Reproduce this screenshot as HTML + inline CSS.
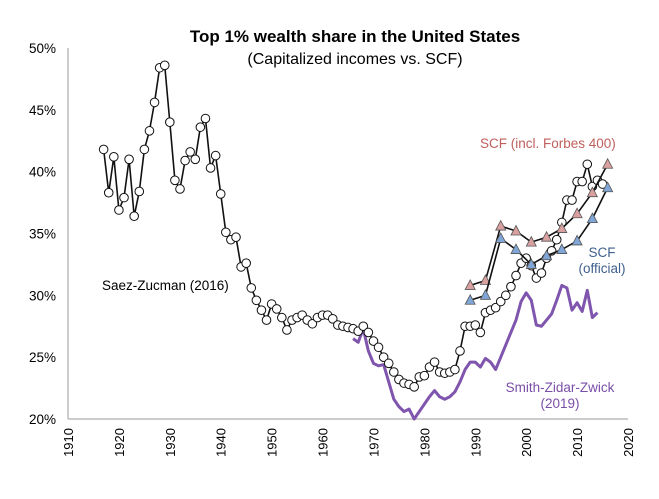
<!DOCTYPE html>
<html><head><meta charset="utf-8"><style>
body{margin:0;background:#fff;}
svg{display:block;font-family:"Liberation Sans",Arial,sans-serif;}
</style></head><body>
<svg width="659" height="499" id="c">
<text x="355" y="42" text-anchor="middle" font-size="17" font-weight="bold">Top 1% wealth share in the United States</text>
<text x="355" y="64" text-anchor="middle" font-size="16">(Capitalized incomes vs. SCF)</text>
<g id="axes"></g>
<g id="marks"></g>
<text x="102" y="290" font-size="13.5">Saez-Zucman (2016)</text>
<text x="480" y="148" font-size="13.5" fill="#c0605e">SCF (incl. Forbes 400)</text>
<text x="602" y="257" font-size="13.5" fill="#3f5f8c" text-anchor="middle">SCF</text>
<text x="602" y="273" font-size="13.5" fill="#3f5f8c" text-anchor="middle">(official)</text>
<text x="560" y="392" font-size="13.5" fill="#7a4fa8" text-anchor="middle">Smith-Zidar-Zwick</text>
<text x="560" y="408" font-size="13.5" fill="#7a4fa8" text-anchor="middle">(2019)</text>
</svg>
<script>
const szYears=[1917,1918,1919,1920,1921,1922,1923,1924,1925,1926,1927,1928,1929,1930,1931,1932,1933,1934,1935,1936,1937,1938,1939,1940,1941,1942,1943,1944,1945,1946,1947,1948,1949,1950,1951,1952,1953,1954,1955,1956,1957,1958,1959,1960,1961,1962,1963,1964,1965,1966,1967,1968,1969,1970,1971,1972,1973,1974,1975,1976,1977,1978,1979,1980,1981,1982,1983,1984,1985,1986,1987,1988,1989,1990,1991,1992,1993,1994,1995,1996,1997,1998,1999,2000,2001,2002,2003,2004,2005,2006,2007,2008,2009,2010,2011,2012,2013,2014,2015];
const szValues=[41.8,38.3,41.2,36.9,37.9,41.0,36.4,38.4,41.8,43.3,45.6,48.4,48.6,44.0,39.3,38.6,40.9,41.6,41.0,43.6,44.3,40.3,41.3,38.2,35.1,34.5,34.7,32.3,32.6,30.6,29.6,28.8,28.0,29.3,28.9,28.2,27.2,28.0,28.2,28.4,28.0,27.7,28.2,28.4,28.4,28.1,27.6,27.5,27.4,27.3,27.1,27.5,27.0,26.3,25.8,25.0,24.5,23.8,23.2,22.9,22.8,22.6,23.4,23.5,24.2,24.6,23.8,23.7,23.8,24.0,25.5,27.5,27.5,27.6,27.0,28.6,28.8,29.0,29.5,30.0,30.7,31.6,32.6,33.0,32.4,31.4,31.8,33.0,33.6,34.5,35.9,37.7,37.7,39.2,39.2,40.6,38.8,39.3,39.0];
const scfYears=[1989,1992,1995,1998,2001,2004,2007,2010,2013,2016];
const scfForbes=[30.8,31.2,35.6,35.2,34.3,34.7,35.4,36.6,38.3,40.6];
const scfOfficial=[29.6,30.0,34.6,33.7,32.5,33.2,33.7,34.4,36.2,38.7];
const szzYears=[1966,1967,1968,1969,1970,1971,1972,1973,1974,1975,1976,1977,1978,1979,1980,1981,1982,1983,1984,1985,1986,1987,1988,1989,1990,1991,1992,1993,1994,1995,1996,1997,1998,1999,2000,2001,2002,2003,2004,2005,2006,2007,2008,2009,2010,2011,2012,2013,2014];
const szzValues=[26.5,26.2,27.3,25.5,24.5,24.3,24.4,23.0,21.6,21.0,20.6,20.8,20.0,20.6,21.2,21.8,22.3,21.8,21.6,21.8,22.2,23.0,24.0,24.6,24.6,24.2,24.9,24.6,24.0,25.0,26.0,27.0,28.0,29.5,30.2,29.6,27.6,27.5,28.0,28.5,29.6,30.8,30.6,28.8,29.4,28.7,30.4,28.2,28.6];
const xTicks=[1910,1920,1930,1940,1950,1960,1970,1980,1990,2000,2010,2020];
const yTicks=[20,25,30,35,40,45,50];

const NS="http://www.w3.org/2000/svg";
const X=y=>68+(y-1910)*(628-68)/110;
const Y=v=>419-(v-20)*(419-48)/30;
function mk(t,a,p){const e=document.createElementNS(NS,t);for(const k in a)e.setAttribute(k,a[k]);p.appendChild(e);return e;}
const ax=document.getElementById('axes'),mk2=document.getElementById('marks');
let l=mk('line',{x1:68,y1:48,x2:68,y2:419,stroke:'#bbb','stroke-width':1.5},ax);


l=mk('line',{x1:68,y1:419,x2:628,y2:419,stroke:'#bbb','stroke-width':1.5},ax);


yTicks.forEach(v=>{const t=mk('text',{x:56,y:Y(v)+5,'text-anchor':'end','font-size':13.5},ax);t.textContent=v+'%';

});
xTicks.forEach(v=>{const t=mk('text',{x:0,y:0,'text-anchor':'end','font-size':13,transform:`translate(${X(v)+5},428) rotate(-90)`},ax);t.textContent=v;

});
function pts(xs,vs){return xs.map((x,i)=>X(x)+','+Y(vs[i])).join(' ');}
let p=mk('polyline',{points:pts(szzYears,szzValues),fill:'none',stroke:'#7f55ad','stroke-width':3,'stroke-linejoin':'round'},mk2);


p=mk('polyline',{points:pts(szYears,szValues),fill:'none',stroke:'#111','stroke-width':1.6},mk2);


szYears.forEach((x,i)=>{const c=mk('circle',{cx:X(x),cy:Y(szValues[i]),r:4.3,fill:'#fff',stroke:'#111','stroke-width':1},mk2);

});
function tri(xs,vs,fill,name){const q=mk('polyline',{points:pts(xs,vs),fill:'none',stroke:'#111','stroke-width':1.6},mk2);


xs.forEach((x,i)=>{const cx=X(x),cy=Y(vs[i]);const t=mk('polygon',{points:`${cx},${cy-5.5} ${cx-5},${cy+4} ${cx+5},${cy+4}`,fill:fill,stroke:'#555','stroke-width':0.8},mk2);

});}
tri(scfYears,scfForbes,'#d9a0a0','scf-forbes');
tri(scfYears,scfOfficial,'#7fa6d6','scf-official');
</script>
</body></html>
